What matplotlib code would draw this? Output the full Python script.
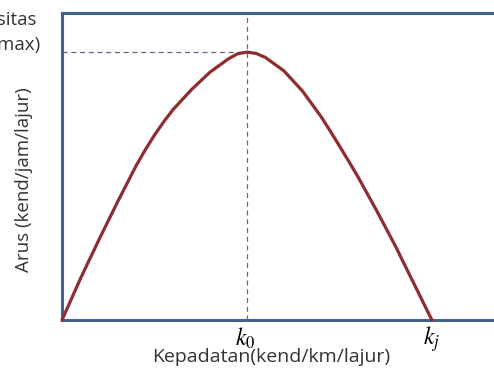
import matplotlib
matplotlib.use("Agg")
import matplotlib.pyplot as plt

plt.rcParams['font.family'] = ['Open Sans', 'DejaVu Sans']
plt.rcParams['mathtext.fontset'] = 'stix'

# kepadatan (k, % dari kj) dan arus (q, % dari qmax)
kepadatan = [0, 5, 10, 15, 20, 22.5, 25, 27.5, 30, 35, 40, 45, 47.5, 50, 52.5,
             55, 60, 65, 70, 72.5, 75, 77.5, 80, 85, 90, 95, 100]
arus = [0, 15.5, 30, 44, 57.5, 63.5, 69, 74, 78.5, 86, 92.5, 97.5, 99.4, 100,
        99.5, 98, 93, 85.5, 76, 70.6, 65, 59.3, 53.5, 41, 28, 14, 0]
k0 = 50.0
qmax = 100.0

fig = plt.figure(figsize=(4.94, 3.69), dpi=100)
ax = fig.add_axes([62 / 494, 49 / 369, 432 / 494, 307 / 369])
ax.set_xlim(0, 116.8)
ax.set_ylim(0, 114.6)

biru = '#44618c'
for s in ['left', 'bottom', 'top']:
    ax.spines[s].set_color(biru)
    ax.spines[s].set_linewidth(2.2)
ax.spines['right'].set_visible(False)
ax.set_xticks([])
ax.set_yticks([])

# garis bantu putus-putus
ax.plot([k0, k0], [0, 114.6], ls=(0, (4, 3)), color='#5b6b82', lw=0.9)
ax.plot([0, k0], [qmax, qmax], ls=(0, (4, 3)), color='#5b6b82', lw=0.9)

# kurva arus-kepadatan
ax.plot(kepadatan, arus, color='#8e2c2f', lw=2.3, solid_joinstyle='round',
        solid_capstyle='round', clip_on=False, zorder=3)

fig.text(245 / 494, 1 - 339 / 369, '$k_0$', fontsize=17, ha='center', va='center')
fig.text(432 / 494, 1 - 339 / 369, '$k_j$', fontsize=17, ha='center', va='center')
fig.text(271 / 494, 1 - 357 / 369, 'Kepadatan(kend/km/lajur)', fontsize=14,
         ha='center', va='center', color='#333333')
fig.text(24 / 494, 1 - 180 / 369, 'Arus (kend/jam/lajur)', fontsize=13.5,
         ha='center', va='center', rotation=90, color='#333333')
fig.text(37 / 494, 1 - 20 / 369, 'Kapasitas', fontsize=13.5, ha='right',
         va='center', color='#333333')
fig.text(40 / 494, 1 - 45 / 369, '(qmax)', fontsize=13.5, ha='right',
         va='center', color='#333333')

fig.savefig('out.png', dpi=100)
